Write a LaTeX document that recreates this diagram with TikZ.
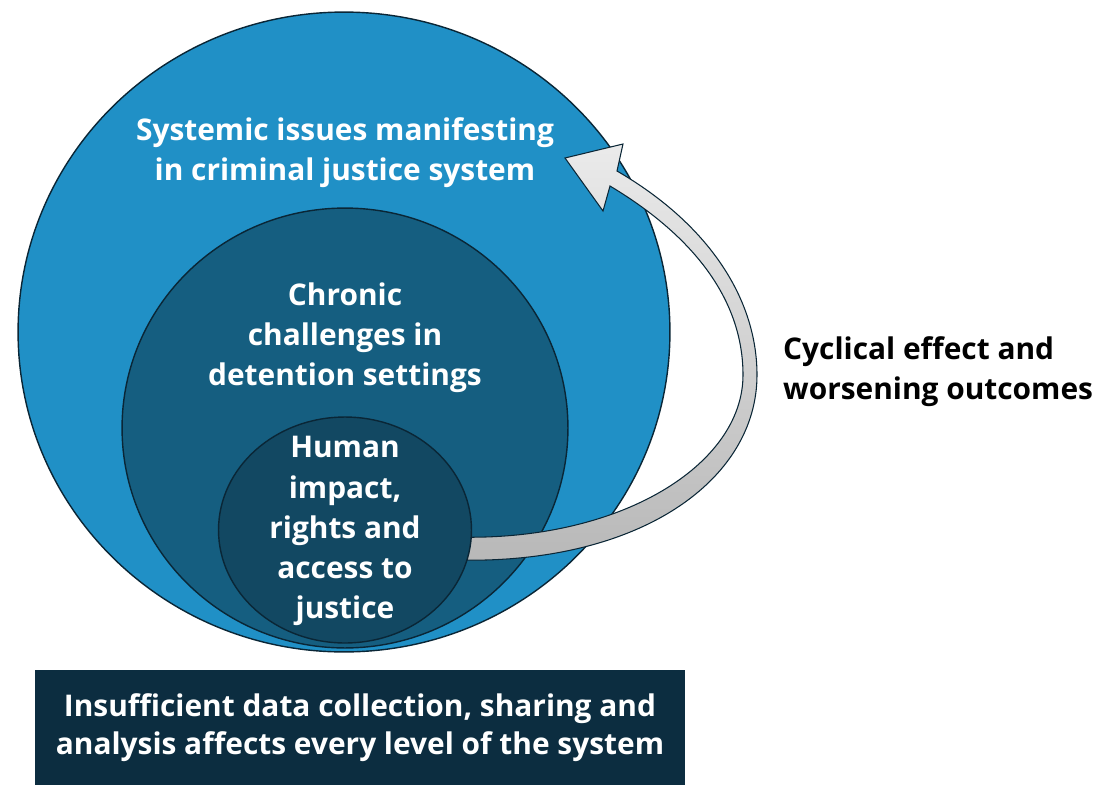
\documentclass[tikz,border=0pt]{standalone}
\usepackage{fontspec}
\setmainfont{Open Sans}
\usetikzlibrary{shapes.geometric,positioning}
\definecolor{outerblue}{RGB}{32,144,198}
\definecolor{midblue}{RGB}{21,94,128}
\definecolor{innerblue}{RGB}{18,72,98}
\definecolor{boxblue}{RGB}{12,45,64}
\definecolor{rim}{RGB}{10,38,54}

\begin{document}
\begin{tikzpicture}
  [
    x=0.02cm, y=-0.02cm,
    ring/.style={draw=rim, ellipse, line width=0.8pt, inner sep=0pt},
    txt/.style={text=white, font=\bfseries\fontsize{17}{22.8}\selectfont, align=center},
    cycle arrow/.style={draw=rim, line width=0.6pt, top color=black!8, bottom color=black!28}
  ]
  \useasboundingbox (0,0) rectangle (1102,785);

  \node (sys) [ring, fill=outerblue, minimum width=13.04cm, minimum height=12.8cm] at (344,332) {};
  \node (det) [ring, fill=midblue, minimum width=8.92cm, minimum height=8.8cm] at (345,428) {};

  % curved arrow from the inner ring back up to the outer one
  \draw [cycle arrow] (617,171) .. controls (710,225) and (757,300) .. (757,375)
    .. controls (757,480) and (640,565) .. (455,560) -- (455,537)
    .. controls (620,542) and (743,465) .. (743,375)
    .. controls (743,305) and (700,240) .. (610,186)
    -- (603,211) -- (565,158) -- (623,144) -- cycle;

  \node (hum) [ring, fill=innerblue, minimum width=5.06cm, minimum height=4.52cm] at (345,530) {};

  \node (sysT) [txt] at (345,153) {Systemic issues manifesting\\in criminal justice system};
  \node (detT) [txt] at (345,338) {Chronic\\challenges in\\detention settings};
  \node (humT) [txt] at (345,531) {Human\\impact,\\rights and\\access to\\justice};
  \node (cyc) [txt, text=black, align=left, anchor=west] at (777,372) {Cyclical effect and\\worsening outcomes};

  \node (data) [txt, font=\bfseries\fontsize{17}{21.6}\selectfont, fill=boxblue, minimum width=13cm, minimum height=2.3cm, inner sep=0pt] at (360,727.5)
    {Insufficient data collection, sharing and\\analysis affects every level of the system};
\end{tikzpicture}
\end{document}
